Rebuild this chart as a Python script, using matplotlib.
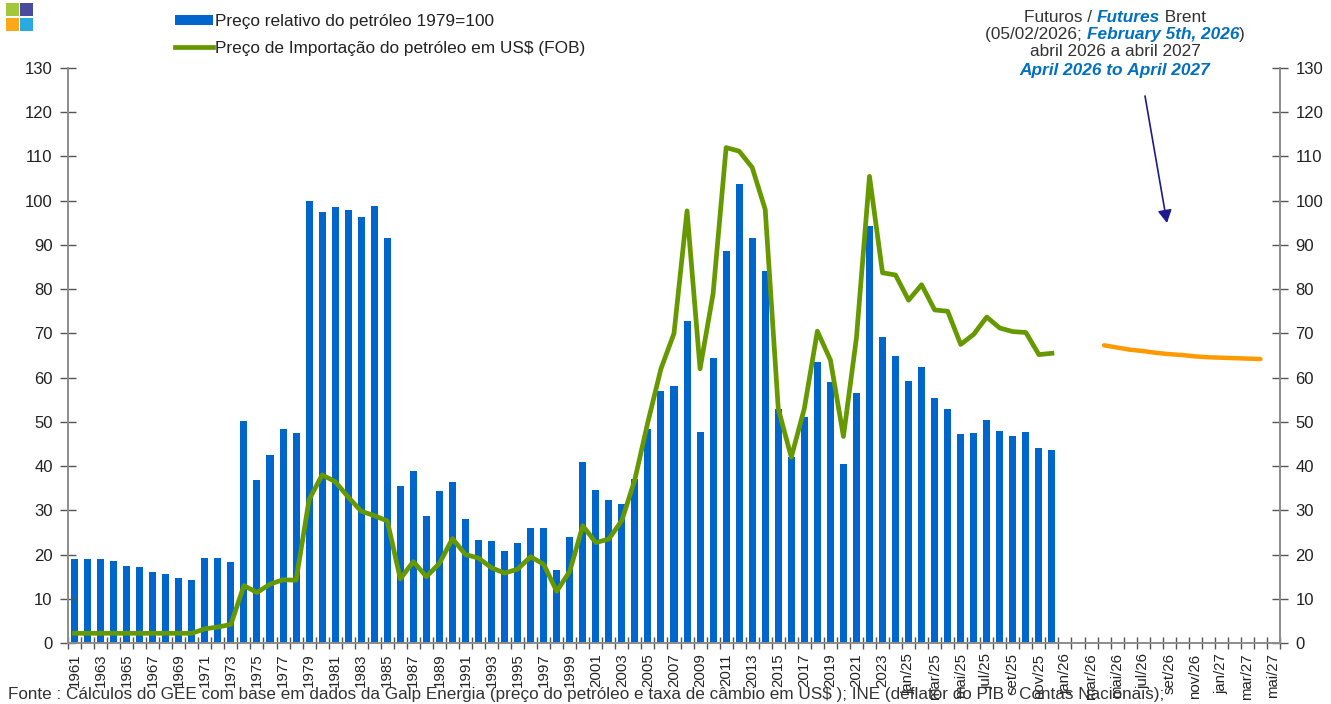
import matplotlib
matplotlib.use("Agg")
import matplotlib.pyplot as plt
from matplotlib.patches import Rectangle

plt.rcParams["font.family"] = ["Liberation Sans", "DejaVu Sans"]

# data
years = [str(y) for y in range(1961, 2025)]
months = ["jan", "fev", "mar", "abr", "mai", "jun", "jul", "ago", "set", "out", "nov", "dez"]
categories = years + [m + "/25" for m in months] + [m + "/26" for m in months] + [m + "/27" for m in months[:5]]

relative_price = [19, 19, 19, 18.6, 17.5, 17.2, 16, 15.5, 14.8, 14.2,
                  19.3, 19.3, 18.4, 50.2, 36.8, 42.5, 48.3, 47.5, 100, 97.5,
                  98.6, 98, 96.2, 98.8, 91.6, 35.6, 39, 28.7, 34.4, 36.4,
                  28, 23.3, 23.1, 20.8, 22.5, 26, 25.9, 16.6, 23.9, 41,
                  34.6, 32.4, 31.4, 37, 48.3, 57, 58.1, 72.7, 47.7, 64.4,
                  88.7, 103.8, 91.5, 84, 53, 42, 51, 63.5, 59, 40.5,
                  56.6, 94.3, 69.2, 64.8,
                  59.3, 62.3, 55.3, 53, 47.3, 47.5, 50.5, 47.9, 46.9, 47.7, 44.2, 43.7]

import_price = [2.2, 2.2, 2.2, 2.2, 2.2, 2.2, 2.2, 2.2, 2.2, 2.2,
                3.2, 3.6, 4.2, 13, 11.4, 13.3, 14.3, 14.2, 32.4, 38,
                36.5, 33, 29.8, 28.8, 27.6, 14.5, 18.4, 15, 18, 23.6,
                20, 19.2, 17, 15.8, 16.7, 19.5, 17.8, 11.7, 16.2, 26.5,
                22.7, 23.5, 27.7, 37, 50, 62, 70, 97.7, 62, 79,
                112, 111.2, 107.5, 98, 53, 42, 53, 70.5, 64, 46.7,
                69, 105.5, 83.7, 83.2,
                77.5, 81, 75.3, 75, 67.5, 69.8, 73.7, 71.2, 70.4, 70.2, 65.2, 65.5]

futures_start = categories.index("abr/26")
futures_price = [67.3, 66.8, 66.3, 66, 65.6, 65.3, 65.1, 64.8, 64.6, 64.5, 64.4, 64.3, 64.2]

W, H = 1331, 704
GREY = "#8C8C8C"
BLUE = "#0066CC"
GREEN = "#669900"
ORANGE = "#FF9900"
TEXT_BLUE = "#0070C0"


def px(x, y):
    # pixel position in the picture -> figure fraction
    return x / W, 1 - y / H


fig = plt.figure(figsize=(W / 100, H / 100), dpi=100)
ax = fig.add_axes([68 / W, 1 - 643 / H, (1280 - 68) / W, (643 - 68) / H])

x_bars = list(range(len(relative_price)))
x_futures = list(range(futures_start, futures_start + len(futures_price)))

bars = ax.bar(x_bars, relative_price, width=0.54, color=BLUE)
line, = ax.plot(x_bars, import_price, color=GREEN, lw=3.4)
ax.plot(x_futures, futures_price, color=ORANGE, lw=3.2, solid_capstyle="round")

ax.set_xlim(-0.5, len(categories) - 0.5)
ax.set_ylim(0, 130)
ax.set_yticks(range(0, 131, 10))

# tick marks sit between the categories, labels on every second one
ax.set_xticks([i - 0.5 for i in range(len(categories) + 1)])
ax.set_xticklabels([])
ax.set_xticks(list(range(0, len(categories), 2)), minor=True)
ax.set_xticklabels(categories[::2], minor=True, rotation=90, fontsize=10.8, color="#222222")
ax.tick_params(axis="x", which="major", direction="inout", length=8, width=1, color="#555555")
ax.tick_params(axis="x", which="minor", length=0, pad=7.5)
ax.tick_params(axis="y", direction="inout", length=11, width=1, color="#555555", labelsize=12,
               labelcolor="#222222", pad=5.5, left=True, right=True, labelleft=True, labelright=True)

ax.spines["top"].set_visible(False)
for side in ["left", "right", "bottom"]:
    ax.spines[side].set_color(GREY)
    ax.spines[side].set_linewidth(1.4)

ax.legend([bars, line], ["Preço relativo do petróleo 1979=100", "Preço de Importação do petróleo em US$ (FOB)"],
          loc="upper left", bbox_to_anchor=px(175, 14), bbox_transform=fig.transFigure, frameon=False,
          fontsize=12.4, handlelength=2.2, handleheight=0.55, handletextpad=0.1, labelspacing=0.68,
          borderaxespad=0, borderpad=0, labelcolor="#222222")

# logo
logo = [(6, 3, "#A4C639"), (20, 3, "#4A4A9E"), (6, 18, "#FBA919"), (20, 18, "#29ABE2")]
for lx, ly, c in logo:
    fig.add_artist(Rectangle(px(lx, ly + 13), 13 / W, 13 / H, transform=fig.transFigure, color=c, lw=0))

# futures note, lines mix plain and bold italic blue pieces
note_lines = [
    (18, [("Futuros / ", False), ("Futures", True), (" Brent", False)]),
    (35, [("(05/02/2026; ", False), ("February 5th, 2026", True), (")", False)]),
    (52, [("abril 2026 a abril 2027", False)]),
    (70, [("April 2026 to April 2027", True)]),
]
renderer = fig.canvas.get_renderer()
for ly, pieces in note_lines:
    items = []
    widths = []
    for s, emph in pieces:
        s = s.replace(" ", "\u00a0")  # plain spaces at the ends do not count in the extent
        if emph:
            t = fig.text(0, 0, s, fontsize=12.4, color=TEXT_BLUE, style="italic", weight="bold", va="center")
        else:
            t = fig.text(0, 0, s, fontsize=12.4, color="#333333", va="center")
        items.append(t)
        widths.append(t.get_window_extent(renderer).width)
    cur = 1115 - sum(widths) / 2
    for t, w in zip(items, widths):
        t.set_position(px(cur, ly))
        cur += w

ax.annotate("", xy=px(1167, 223), xytext=px(1145, 96), xycoords="figure fraction", textcoords="figure fraction",
            arrowprops=dict(arrowstyle="-|>,head_length=0.55,head_width=0.3", color="#1F1A8C", lw=1.2,
                            mutation_scale=14, shrinkA=0, shrinkB=0))

fig.text(*px(8, 694), "Fonte : Cálculos do GEE com base em dados da Galp Energia (preço do petróleo e taxa de câmbio em US$ ); "
         "INE (deflator do PIB - Contas Nacionais);", fontsize=12.35, color="#333333", va="center")

fig.savefig("out.png", dpi=100)
